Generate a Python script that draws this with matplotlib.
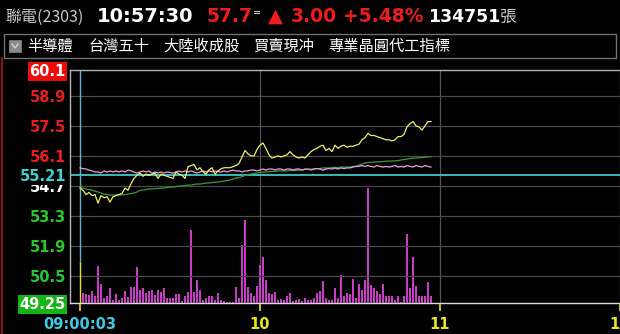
import matplotlib
matplotlib.use("Agg")
import matplotlib.pyplot as plt
from matplotlib.patches import Rectangle
from matplotlib.lines import Line2D
import numpy as np

# ---------------- data ----------------
minutes = list(range(0, 118))  # minutes after 09:00

price = [54.6, 54.5, 54.3, 54.4, 54.25, 54.3, 53.9, 54.25, 54.15, 54.2,
         53.95, 54.2, 54.25, 54.3, 54.35, 54.6, 54.5, 54.8, 55.05, 55.2,
         55.3, 55.15, 55.25, 55.2, 55.25, 55.3, 55.05, 55.25, 55.2, 55.15,
         55.1, 55.05, 55.35, 55.25, 55.2, 55.05, 55.6, 55.65, 55.7, 55.45,
         55.55, 55.35, 55.25, 55.45, 55.55, 55.25, 55.4, 55.5, 55.55, 55.55,
         55.55, 55.6, 55.65, 55.75, 56.05, 56.35, 56.2, 56.1, 56.1, 56.4,
         56.6, 56.7, 56.45, 56.15, 56.0, 56.05, 56.1, 56.05, 56.1, 56.15,
         56.3, 56.15, 56.05, 56.0, 56.05, 56.0, 56.15, 56.3, 56.4, 56.45,
         56.55, 56.6, 56.35, 56.45, 56.3, 56.6, 56.45, 56.55, 56.6, 56.5,
         56.55, 56.55, 56.6, 56.65, 56.85, 56.95, 57.15, 57.05, 57.05, 57.0,
         56.95, 56.9, 56.85, 56.85, 56.8, 56.85, 57.0, 57.0, 57.1, 57.45,
         57.6, 57.7, 57.5, 57.45, 57.3, 57.5, 57.7, 57.7]

index_line = [55.54, 55.51, 55.49, 55.44, 55.40, 55.35, 55.35, 55.30, 55.40, 55.35,
              55.40, 55.35, 55.40, 55.35, 55.40, 55.35, 55.44, 55.40, 55.35, 55.30,
              55.35, 55.40, 55.35, 55.40, 55.30, 55.35, 55.30, 55.35, 55.30, 55.35,
              55.33, 55.30, 55.35, 55.40, 55.35, 55.40, 55.35, 55.40, 55.35, 55.30,
              55.35, 55.40, 55.35, 55.40, 55.35, 55.40, 55.37, 55.35, 55.40, 55.35,
              55.40, 55.44, 55.40, 55.40, 55.35, 55.40, 55.40, 55.44, 55.44, 55.40,
              55.44, 55.49, 55.44, 55.49, 55.49, 55.44, 55.49, 55.49, 55.44, 55.49,
              55.49, 55.44, 55.49, 55.49, 55.44, 55.49, 55.49, 55.44, 55.49, 55.51,
              55.49, 55.44, 55.49, 55.51, 55.49, 55.54, 55.49, 55.54, 55.51, 55.54,
              55.54, 55.58, 55.61, 55.61, 55.65, 55.61, 55.65, 55.61, 55.58, 55.65,
              55.61, 55.58, 55.61, 55.58, 55.61, 55.65, 55.58, 55.61, 55.58, 55.65,
              55.61, 55.58, 55.65, 55.61, 55.58, 55.65, 55.61, 55.58]

avg_price = [54.65, 54.60, 54.56, 54.53, 54.51, 54.46, 54.42, 54.37, 54.32, 54.30,
             54.28, 54.28, 54.28, 54.28, 54.28, 54.30, 54.32, 54.35, 54.37, 54.42,
             54.49, 54.51, 54.53, 54.56, 54.56, 54.58, 54.58, 54.60, 54.60, 54.63,
             54.65, 54.65, 54.67, 54.70, 54.70, 54.72, 54.74, 54.74, 54.77, 54.79,
             54.79, 54.81, 54.84, 54.84, 54.86, 54.88, 54.88, 54.91, 54.93, 54.95,
             54.98, 55.02, 55.07, 55.09, 55.14, 55.19, 55.23, 55.26, 55.28, 55.30,
             55.33, 55.35, 55.35, 55.37, 55.37, 55.37, 55.40, 55.40, 55.40, 55.40,
             55.42, 55.42, 55.42, 55.44, 55.44, 55.47, 55.47, 55.49, 55.49, 55.51,
             55.51, 55.54, 55.54, 55.54, 55.56, 55.56, 55.56, 55.58, 55.58, 55.58,
             55.58, 55.61, 55.61, 55.68, 55.72, 55.77, 55.79, 55.80, 55.81, 55.82,
             55.83, 55.84, 55.85, 55.86, 55.86, 55.87, 55.88, 55.91, 55.93, 55.95,
             55.98, 55.99, 56.00, 56.01, 56.02, 56.04, 56.05, 56.06]

vol_minutes = list(range(1, 118))
volume = [1000, 900, 800, 1200, 700, 3700, 1900, 500, 700, 1500,
          300, 900, 300, 500, 1200, 600, 1600, 1600, 3600, 1300,
          1500, 1000, 1200, 1300, 800, 1300, 1100, 1500, 500, 500,
          500, 900, 900, 200, 700, 1100, 7300, 1100, 2300, 1300,
          300, 500, 700, 700, 300, 1000, 300, 200, 100, 100,
          100, 1600, 500, 5800, 8300, 1600, 1000, 700, 1700, 3800,
          4600, 2300, 1000, 900, 1100, 300, 400, 300, 700, 1000,
          200, 300, 400, 200, 500, 300, 300, 500, 1000, 1200,
          2200, 500, 300, 300, 1500, 500, 2800, 700, 1000, 900,
          2400, 500, 1900, 1300, 2300, 11500, 1800, 1500, 1200, 900,
          1900, 700, 700, 700, 300, 700, 100, 700, 6900, 1500,
          4600, 1700, 700, 700, 700, 2100, 700]

ref_price = 55.21
top_price = 60.1
bottom_price = 49.25
grid_levels = [50.5, 51.9, 53.3, 54.7, 56.1, 57.5, 58.9]
tick_hours = [0, 60, 120, 180]
tick_names = ["09:00:03", "10", "11", "12"]

categories = ["半導體", "台灣五十", "大陸收成股", "買賣現冲", "專業晶圓代工指標"]

# ---------------- figure ----------------
W, H = 620, 334
fig = plt.figure(figsize=(W / 100, H / 100), dpi=100, facecolor="black")

def fx(x):
    return x / W

def fy(y):
    return 1 - y / H

CJK = ["Noto Sans CJK TC", "DejaVu Sans"]
RED = "#ee1c1c"

# header row
fig.text(fx(5), fy(17), "聯電(2303)", color="#c8c8c8", fontsize=11.5,
         family=["Noto Sans CJK TC", "Liberation Serif"], va="center", ha="left")
fig.text(fx(97), fy(17), "10:57:30", color="white", fontsize=14,
         fontweight="bold", va="center", ha="left")
fig.text(fx(207), fy(17), "57.7", color=RED, fontsize=13.5,
         fontweight="bold", va="center", ha="left")
fig.text(fx(253), fy(13), "=", color="white", fontsize=7, va="center", ha="left")
fig.text(fx(268), fy(16), "▲", color=RED, fontsize=14, va="center", ha="left")
fig.text(fx(291), fy(17), "3.00", color=RED, fontsize=13.5,
         fontweight="bold", va="center", ha="left")
fig.text(fx(343), fy(17), "+5.48%", color=RED, fontsize=13.5,
         fontweight="bold", va="center", ha="left")
fig.text(fx(428), fy(17), "134751", color="white", fontsize=12.5,
         fontweight="bold", va="center", ha="left")
fig.text(fx(500), fy(17), "張", color="#c8c8c8", fontsize=12,
         family=CJK, va="center", ha="left")

# second row box
fig.add_artist(Rectangle((fx(4), fy(58)), fx(612), 24 / H, transform=fig.transFigure,
                         facecolor="black", edgecolor="#707070", lw=1))
fig.add_artist(Rectangle((fx(9), fy(52)), fx(12), 12 / H, transform=fig.transFigure,
                         facecolor="#8a8a8a", edgecolor="#8a8a8a", lw=0.5))
fig.add_artist(Line2D([fx(12), fx(15), fx(18)], [fy(44), fy(48), fy(44)],
                      transform=fig.transFigure, color="#d0d0d0", lw=1))
cat_x = [27, 88, 163, 253, 328]
for cx, name in zip(cat_x, categories):
    fig.text(fx(cx), fy(46), name, color="white", fontsize=11, family=CJK,
             va="center", ha="left")

# left red border
fig.add_artist(Line2D([fx(1.5), fx(1.5)], [fy(58), fy(334)], transform=fig.transFigure,
                      color="#b01818", lw=1.2))

# ---------------- axes ----------------
rect = [fx(70), (H - 303) / H, (890 - 70) / W, 233 / H]
ax_vol = fig.add_axes(rect)
ax = fig.add_axes(rect, sharex=ax_vol)
ax.set_facecolor("none")
ax_vol.set_facecolor("black")
ax.set_xlim(-10 / 3, 270)
ax.set_ylim(bottom_price, top_price)
ax_vol.set_ylim(0, 23300)
ax_vol.set_yticks([])
ax_vol.tick_params(axis="x", length=0, labelbottom=False)
for s in ax_vol.spines.values():
    s.set_visible(False)

# grid
for lv in grid_levels:
    ax.axhline(lv, color="#4a4a4a", lw=0.9, zorder=0)
for m in [60, 120, 180, 240]:
    ax_vol.axvline(m, color="#555555", lw=0.9, zorder=0)

# volume bars
ax_vol.bar(vol_minutes, volume, width=0.4, color="#c83cc8", zorder=2)

# reference lines
ax.axhline(ref_price, color="#3cc8c8", lw=1.3, zorder=1)
split = 51.11
ax.plot([0, 0], [split, top_price], color="#5ab4d2", lw=1.0, zorder=1)
ax.plot([0, 0], [bottom_price, split], color="#e6e61e", lw=1.0, zorder=1)

# price lines
ax.plot(minutes, avg_price, color="#3c963c", lw=0.9, zorder=3)
ax.plot(minutes, index_line, color="#e6a0e6", lw=0.9, zorder=3)
ax.plot(minutes, price, color="#f0f064", lw=0.9, zorder=4)

# spines
for side in ["left", "top", "bottom"]:
    ax.spines[side].set_color("#b4b4b4")
    ax.spines[side].set_linewidth(1.0)
ax.spines["right"].set_visible(False)
ax.spines["bottom"].set_color("#dcdcdc")

# x ticks
ax.set_xticks(tick_hours)
ax.set_xticklabels(tick_names)
ax.tick_params(axis="x", direction="out", length=6, width=1.2, color="#e6e61e",
               pad=4, labelsize=10.5)
for lbl, c in zip(ax.get_xticklabels(), ["#3cc8e6", "#e6e61e", "#e6e61e", "#e6e61e"]):
    lbl.set_color(c)
    lbl.set_fontweight("bold")

# y ticks
ylevels = [49.25, 50.5, 51.9, 53.3, 54.7, 55.21, 56.1, 57.5, 58.9, 60.1]
ylabels = ["49.25", "50.5", "51.9", "53.3", "54.7", "55.21", "56.1", "57.5", "58.9", "60.1"]
ycolors = ["white", "#28c828", "#28c828", "#28c828", "white", "#3cd2d2",
           "#e61e1e", "#e61e1e", "#e61e1e", "white"]
ax.set_yticks(ylevels)
ax.set_yticklabels(ylabels)
ax.tick_params(axis="y", length=0, pad=3, labelsize=10.5)
for lbl, c, v in zip(ax.get_yticklabels(), ycolors, ylevels):
    lbl.set_color(c)
    lbl.set_fontweight("bold")
    if v == 60.1:
        lbl.set_bbox(dict(facecolor="#f00a0a", edgecolor="none", pad=1.2))
    elif v == 49.25:
        lbl.set_bbox(dict(facecolor="#14b414", edgecolor="none", pad=1.2))
    elif v == 55.21:
        lbl.set_bbox(dict(facecolor="black", edgecolor="none", pad=0.5))

fig.savefig("out.png", dpi=100, facecolor="black")
